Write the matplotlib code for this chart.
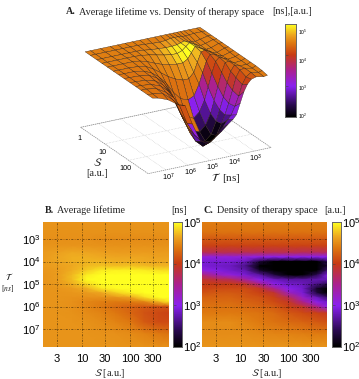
import numpy as np
import matplotlib
matplotlib.use('Agg')
import matplotlib.pyplot as plt
from matplotlib.colors import LinearSegmentedColormap, Normalize

plt.rcParams['mathtext.fontset'] = 'stix'
plt.rcParams['font.family'] = ['Liberation Serif', 'DejaVu Serif']

# log10 grid of the surface in panel A
surf_t = [7.6, 7.36, 6.91, 6.47, 6.13, 5.8, 5.46, 5.13, 4.8, 4.46, 4.19, 3.96, 3.8, 3.63, 3.46, 3.3, 3.13, 2.91, 2.57, 2.4]
surf_s = [0, 0.22, 0.48, 0.7, 0.93, 1.18, 1.4, 1.63, 1.88, 2.11, 2.33, 2.59, 2.81]

surf_z = [
    [4.78, 4.78, 4.78, 4.78, 4.78, 4.78, 4.78, 4.78, 4.78, 4.78, 4.78, 4.78, 4.78, 4.78, 4.78, 4.78, 4.78, 4.78, 4.78, 4.78],
    [4.78, 4.78, 4.78, 4.78, 4.78, 4.78, 4.78, 4.76, 4.74, 4.72, 4.74, 4.78, 4.78, 4.78, 4.76, 4.75, 4.76, 4.78, 4.78, 4.78],
    [4.78, 4.78, 4.78, 4.78, 4.78, 4.78, 4.76, 4.72, 4.7, 4.68, 4.68, 4.7, 4.74, 4.78, 4.74, 4.7, 4.68, 4.72, 4.78, 4.78],
    [4.78, 4.78, 4.78, 4.78, 4.78, 4.76, 4.72, 4.66, 4.6, 4.55, 4.55, 4.62, 4.74, 4.85, 4.78, 4.71, 4.66, 4.7, 4.78, 4.78],
    [4.78, 4.78, 4.78, 4.78, 4.75, 4.67, 4.55, 4.45, 4.38, 4.34, 4.34, 4.45, 4.65, 4.85, 4.78, 4.71, 4.66, 4.68, 4.78, 4.78],
    [4.78, 4.78, 4.78, 4.76, 4.7, 4.55, 4.35, 4.15, 4.0, 3.9, 3.9, 4.1, 4.45, 4.8, 4.84, 4.77, 4.7, 4.66, 4.76, 4.78],
    [4.78, 4.78, 4.78, 4.72, 4.6, 4.4, 4.1, 3.7, 3.4, 3.3, 3.4, 3.8, 4.2, 4.6, 4.82, 4.8, 4.73, 4.66, 4.74, 4.78],
    [4.78, 4.78, 4.76, 4.7, 4.55, 4.3, 3.85, 3.3, 2.9, 2.75, 2.95, 3.35, 3.8, 4.3, 4.7, 4.82, 4.76, 4.68, 4.72, 4.78],
    [4.78, 4.78, 4.75, 4.65, 4.45, 4.1, 3.5, 2.9, 2.5, 2.4, 2.6, 3.0, 3.45, 3.95, 4.45, 4.78, 4.8, 4.7, 4.72, 4.78],
    [4.78, 4.78, 4.74, 4.6, 4.35, 3.85, 3.2, 2.6, 2.25, 2.2, 2.4, 2.85, 3.25, 3.7, 4.2, 4.6, 4.8, 4.74, 4.72, 4.78],
    [4.78, 4.78, 4.72, 4.5, 4.25, 3.6, 3.0, 2.45, 2.2, 2.3, 2.5, 2.9, 3.2, 3.6, 4.05, 4.5, 4.75, 4.78, 4.72, 4.78],
    [4.78, 4.76, 4.7, 4.4, 4.1, 3.4, 2.9, 2.6, 2.5, 2.7, 2.95, 3.2, 3.35, 3.65, 4.0, 4.4, 4.65, 4.78, 4.72, 4.76],
    [4.78, 4.74, 4.6, 4.35, 4.25, 3.5, 2.86, 2.64, 2.8, 3.0, 3.2, 3.35, 3.5, 3.9, 4.3, 4.55, 4.7, 4.75, 4.7, 4.72],
]

surf_c = [
    [4.42, 4.42, 4.42, 4.42, 4.42, 4.42, 4.42, 4.42, 4.42, 4.42, 4.42, 4.42, 4.42, 4.42, 4.42, 4.42, 4.42, 4.42, 4.42, 4.42],
    [4.42, 4.42, 4.42, 4.42, 4.42, 4.42, 4.42, 4.45, 4.5, 4.58, 4.62, 4.58, 4.5, 4.45, 4.42, 4.42, 4.42, 4.42, 4.42, 4.42],
    [4.42, 4.42, 4.42, 4.42, 4.42, 4.45, 4.5, 4.58, 4.7, 4.85, 4.92, 4.95, 4.85, 4.7, 4.55, 4.45, 4.42, 4.42, 4.42, 4.42],
    [4.42, 4.42, 4.42, 4.42, 4.42, 4.45, 4.5, 4.58, 4.68, 4.8, 4.95, 5.0, 5.0, 4.85, 4.65, 4.5, 4.45, 4.42, 4.42, 4.42],
    [4.4, 4.4, 4.4, 4.4, 4.4, 4.42, 4.44, 4.46, 4.5, 4.55, 4.6, 4.66, 4.72, 4.7, 4.5, 4.45, 4.42, 4.4, 4.4, 4.4],
    [4.38, 4.38, 4.38, 4.38, 4.38, 4.38, 4.36, 4.34, 4.34, 4.34, 4.36, 4.42, 4.5, 4.15, 4.35, 4.4, 4.4, 4.4, 4.4, 4.4],
    [4.36, 4.36, 4.36, 4.36, 4.34, 4.3, 4.3, 4.3, 4.32, 3.0, 3.1, 3.5, 3.9, 4.1, 4.25, 4.38, 4.4, 4.4, 4.4, 4.4],
    [4.36, 4.36, 4.36, 4.34, 4.3, 4.26, 4.26, 4.3, 4.35, 2.45, 2.65, 3.05, 3.5, 4.0, 4.2, 4.35, 4.4, 4.4, 4.4, 4.4],
    [4.36, 4.36, 4.34, 4.3, 4.25, 4.25, 4.3, 4.4, 2.2, 2.1, 2.3, 2.7, 3.15, 3.65, 4.1, 4.25, 4.4, 4.4, 4.4, 4.4],
    [4.36, 4.36, 4.32, 4.28, 4.22, 4.25, 4.4, 2.3, 2.0, 2.0, 2.1, 2.55, 2.95, 3.4, 3.9, 4.15, 4.3, 4.4, 4.4, 4.4],
    [4.36, 4.36, 4.3, 4.25, 4.2, 4.3, 2.7, 2.15, 2.0, 2.0, 2.2, 2.6, 2.9, 3.3, 3.75, 4.1, 4.25, 4.4, 4.4, 4.4],
    [4.36, 4.34, 4.28, 4.2, 4.15, 3.1, 2.6, 2.3, 2.2, 2.4, 2.65, 2.9, 3.05, 3.35, 3.7, 4.05, 4.2, 4.35, 4.4, 4.4],
    [4.36, 4.32, 4.25, 4.2, 4.3, 3.0, 2.6, 2.4, 2.5, 2.7, 2.9, 3.05, 3.2, 3.55, 3.9, 4.1, 4.2, 4.3, 4.4, 4.4],
]

# heatmaps, panels B and C
heat_s = [0.19, 0.5, 0.8, 1.1, 1.4, 1.7, 2.0, 2.3, 2.6, 2.81]
heat_t = [2.24, 2.7, 3.0, 3.3, 3.6, 3.8, 4.0, 4.2, 4.4, 4.6, 4.8, 5.0, 5.2, 5.4, 5.6, 5.8, 6.0, 6.3, 6.7, 7.2, 7.8]

lifetime = [
    [4.55, 4.55, 4.55, 4.55, 4.55, 4.55, 4.55, 4.55, 4.55, 4.55],
    [4.54, 4.54, 4.54, 4.54, 4.54, 4.54, 4.54, 4.54, 4.54, 4.54],
    [4.52, 4.52, 4.52, 4.52, 4.5, 4.5, 4.5, 4.5, 4.5, 4.5],
    [4.55, 4.55, 4.55, 4.55, 4.54, 4.54, 4.54, 4.54, 4.54, 4.54],
    [4.58, 4.62, 4.66, 4.64, 4.62, 4.6, 4.6, 4.6, 4.6, 4.6],
    [4.58, 4.64, 4.68, 4.68, 4.66, 4.64, 4.64, 4.64, 4.62, 4.62],
    [4.6, 4.64, 4.68, 4.7, 4.7, 4.68, 4.68, 4.66, 4.66, 4.66],
    [4.6, 4.62, 4.66, 4.72, 4.76, 4.74, 4.76, 4.72, 4.7, 4.7],
    [4.56, 4.6, 4.68, 4.8, 4.92, 4.95, 4.95, 4.92, 4.88, 4.86],
    [4.55, 4.6, 4.72, 4.92, 5.0, 5.0, 5.0, 5.0, 5.0, 5.0],
    [4.55, 4.6, 4.74, 4.98, 5.0, 5.0, 5.0, 5.0, 5.0, 5.0],
    [4.55, 4.58, 4.68, 4.85, 5.0, 5.0, 5.0, 5.0, 5.0, 5.0],
    [4.55, 4.56, 4.6, 4.68, 4.9, 4.98, 5.0, 5.0, 5.0, 5.0],
    [4.55, 4.55, 4.56, 4.58, 4.64, 4.8, 4.92, 5.0, 5.0, 5.0],
    [4.55, 4.55, 4.54, 4.52, 4.52, 4.54, 4.62, 4.85, 5.0, 5.0],
    [4.55, 4.55, 4.53, 4.47, 4.42, 4.4, 4.4, 4.45, 4.7, 4.9],
    [4.55, 4.55, 4.52, 4.47, 4.4, 4.32, 4.26, 4.2, 4.15, 4.15],
    [4.55, 4.55, 4.54, 4.5, 4.46, 4.38, 4.28, 4.15, 4.08, 4.05],
    [4.55, 4.55, 4.55, 4.54, 4.5, 4.46, 4.38, 4.2, 4.1, 4.1],
    [4.55, 4.55, 4.55, 4.55, 4.54, 4.52, 4.5, 4.44, 4.38, 4.34],
    [4.55, 4.55, 4.55, 4.55, 4.55, 4.55, 4.54, 4.54, 4.52, 4.52],
]

density = [
    [4.42, 4.42, 4.42, 4.42, 4.42, 4.42, 4.42, 4.42, 4.42, 4.42],
    [4.35, 4.35, 4.35, 4.35, 4.35, 4.35, 4.35, 4.35, 4.35, 4.35],
    [4.2, 4.2, 4.2, 4.2, 4.2, 4.2, 4.2, 4.2, 4.2, 4.2],
    [4.05, 4.05, 4.05, 4.05, 4.05, 4.05, 4.05, 4.05, 4.05, 4.05],
    [3.75, 3.75, 3.75, 3.75, 3.75, 3.75, 3.75, 3.72, 3.7, 3.7],
    [3.1, 3.1, 3.1, 3.1, 3.05, 3.0, 3.0, 3.0, 3.0, 3.0],
    [2.9, 2.9, 2.9, 2.8, 2.3, 1.9, 1.8, 1.8, 1.9, 2.4],
    [2.9, 2.85, 2.8, 2.6, 1.9, 1.7, 1.7, 1.7, 1.7, 2.2],
    [3.1, 2.95, 2.85, 2.75, 2.2, 1.8, 1.7, 1.7, 1.8, 2.5],
    [3.6, 3.3, 3.1, 2.9, 2.7, 2.3, 1.95, 1.95, 2.4, 2.9],
    [3.9, 3.8, 3.7, 3.4, 3.0, 2.8, 2.7, 2.7, 2.75, 2.8],
    [4.0, 4.0, 4.0, 3.9, 3.5, 3.0, 2.85, 2.8, 2.6, 2.4],
    [4.05, 4.1, 4.1, 4.1, 3.95, 3.5, 3.0, 2.85, 2.2, 1.8],
    [4.15, 4.2, 4.2, 4.15, 4.05, 3.9, 3.3, 2.9, 2.3, 1.8],
    [4.25, 4.25, 4.25, 4.2, 4.15, 4.05, 3.75, 3.2, 2.8, 2.5],
    [4.3, 4.3, 4.3, 4.25, 4.2, 4.1, 3.95, 3.5, 3.0, 2.85],
    [4.35, 4.35, 4.35, 4.3, 4.25, 4.2, 4.05, 3.9, 3.5, 3.0],
    [4.4, 4.4, 4.4, 4.38, 4.35, 4.3, 4.2, 4.1, 4.05, 3.95],
    [4.5, 4.5, 4.5, 4.45, 4.4, 4.35, 4.3, 4.25, 4.2, 4.15],
    [4.5, 4.5, 4.5, 4.5, 4.48, 4.46, 4.44, 4.42, 4.4, 4.4],
    [4.55, 4.55, 4.55, 4.55, 4.55, 4.55, 4.55, 4.55, 4.55, 4.55],
]

s_ticks = [3, 10, 30, 100, 300]
t_ticks = [3, 4, 5, 6, 7]
cbar_ticks = [2, 3, 4, 5]

cmap = LinearSegmentedColormap.from_list('therapy', [
    (0.0, '#000000'), (0.13, '#2a0a50'), (0.33, '#8a20f0'), (0.5, '#ab2090'),
    (0.67, '#c83c14'), (0.8, '#df7a10'), (0.88, '#eda320'), (1.0, '#ffff20')])
norm = Normalize(2, 5)

W, H = 359, 379
fig = plt.figure(figsize=(W / 100, H / 100), dpi=100)


def px_axes(x0, y0, x1, y1, **kw):
    return fig.add_axes([x0 / W, 1 - y1 / H, (x1 - x0) / W, (y1 - y0) / H], **kw)


def px_text(x, y, s, **kw):
    kw.setdefault('ha', 'center')
    kw.setdefault('va', 'center')
    return fig.text(x / W, 1 - y / H, s, **kw)


def heatmap(x0, x1, values):
    ax = px_axes(x0, 222, x1, 347)
    ax.pcolormesh(heat_s, heat_t, np.array(values), cmap=cmap, norm=norm, shading='gouraud', rasterized=True)
    ax.set_xlim(heat_s[0], heat_s[-1])
    ax.set_ylim(heat_t[-1], heat_t[0])
    for s in s_ticks:
        ax.axvline(np.log10(s), color='k', lw=0.5, ls=(0, (3, 2, 1, 2)), alpha=0.6)
    for t in t_ticks:
        ax.axhline(t, color='k', lw=0.5, ls=(0, (3, 2, 1, 2)), alpha=0.6)
    ax.set_xticks(np.log10(s_ticks))
    ax.set_xticklabels([str(s) for s in s_ticks], family='Liberation Sans', fontsize=8)
    ax.tick_params(length=0, pad=5)
    for sp in ax.spines.values():
        sp.set_visible(False)
    return ax


def colorbar(x0, y0, x1, y1):
    ax = px_axes(x0, y0, x1, y1)
    grad = np.linspace(5, 2, 200).reshape(-1, 1)
    ax.imshow(grad, cmap=cmap, norm=norm, aspect='auto', extent=(0, 1, 2, 5))
    ax.set_xticks([])
    ax.set_yticks(cbar_ticks)
    ax.set_yticklabels([])
    ax.tick_params(length=2, width=0.4, direction='in', color='#444444')
    for sp in ax.spines.values():
        sp.set_color('#666666')
        sp.set_linewidth(0.7)
    return ax


# panel A
a_w = 209.5
a_cx, a_cy = 173.0, 100.0
ax3 = fig.add_axes([(a_cx - a_w / 2) / W, 1 - (a_cy + a_w / 2) / H, a_w / W, a_w / H], projection='3d', proj_type='ortho')
ax3.set_box_aspect((139.7, 137.8, 86.6))
ax3.view_init(elev=22.5, azim=-119.1)
ax3.set_xlim(heat_t[-1], heat_t[0], view_margin=0)
ax3.set_ylim(2.81, 0, view_margin=0)
ax3.set_zlim(2, 5, view_margin=0)
ax3.set_axis_off()
ax3.patch.set_alpha(0)

floor_s = [0, 1, 2]
floor_t = [7, 6, 5, 4, 3]
for v in floor_s:
    ax3.plot([7.8, 2.24], [v, v], [2, 2], color='#bbbbbb', lw=0.4, ls=':')
for v in floor_t:
    ax3.plot([v, v], [0, 2.81], [2, 2], color='#bbbbbb', lw=0.4, ls=':')
ax3.plot([7.8, 2.24, 2.24, 7.8, 7.8], [0, 0, 2.81, 2.81, 0], [2, 2, 2, 2, 2], color='#888888', lw=0.5, ls=(0, (2, 1)))

X, Y = np.meshgrid(surf_t, surf_s)
Z = np.array(surf_z)
ax3.plot_surface(X, Y, Z, facecolors=cmap(norm(np.array(surf_c))), rstride=1, cstride=1,
                 shade=False, edgecolor='#2a1a10', linewidth=0.25, antialiased=True)

px_text(66, 12, 'A.', ha='left', fontsize=7.2, fontweight='bold', color='#222222')
px_text(79, 12, 'Average lifetime vs. Density of therapy space', ha='left', fontsize=7.3, color='#222222')
px_text(312, 12, '[ns],[a.u.]', ha='right', fontsize=7.3, color='#222222')

for s, x, y in zip(['1', '10', '100'], [79, 102, 125], [138, 153, 169]):
    px_text(x, y, s, family='Liberation Sans', fontsize=5.2)
for t, x, y in zip([7, 6, 5, 4, 3], [168, 190, 212, 234, 255], [177, 172, 167, 162, 158]):
    px_text(x, y, '$\\mathregular{10^{%d}}$' % t, family='Liberation Sans', fontsize=5.2)
px_text(98, 162, r'$\mathcal{S}$', fontsize=8, color='#222222')
px_text(97, 174, '[a.u.]', fontsize=7.5, color='#222222')
px_text(226, 178, r'$\mathcal{T}$  [ns]', fontsize=8, color='#222222')

colorbar(285, 24, 296, 117)
for c, y in zip([5, 4, 3, 2], [32, 61, 88, 116]):
    px_text(303, y, '$\\mathregular{10^{%d}}$' % c, family='Liberation Sans', fontsize=3.5)

# panel B
ax_b = heatmap(43, 169, lifetime)
ax_b.set_yticks(t_ticks)
ax_b.set_yticklabels(['$\\mathregular{10^{%d}}$' % t for t in t_ticks], family='Liberation Sans', fontsize=8)
ax_b.tick_params(axis='y', pad=2)
px_text(45, 210, 'B.', ha='left', fontsize=7.2, fontweight='bold', color='#222222')
px_text(57, 210, 'Average lifetime', ha='left', fontsize=7.3, color='#222222')
px_text(171, 210, '[ns]', ha='left', fontsize=7.3, color='#222222')
px_text(110, 373, r'$\mathcal{S}$ [a.u.]', fontsize=7.3, color='#222222')
px_text(9, 276, r'$\mathcal{T}$', fontsize=6.5, color='#222222')
px_text(8, 288, r'[$ns$]', fontsize=5.5, color='#222222')

colorbar(173, 222, 182, 347)

# panel C
ax_c = heatmap(202, 327, density)
ax_c.set_yticks(t_ticks)
ax_c.set_yticklabels([])
px_text(203, 210, 'C.', ha='left', fontsize=7.2, fontweight='bold', color='#222222')
px_text(217, 210, 'Density of therapy space', ha='left', fontsize=7.3, color='#222222')
px_text(346, 210, '[a.u.]', ha='right', fontsize=7.3, color='#222222')
px_text(267, 373, r'$\mathcal{S}$ [a.u.]', fontsize=7.3, color='#222222')

for c, y in zip([5, 4, 3, 2], [223, 264, 306, 347]):
    px_text(192, y, '$\\mathregular{10^{%d}}$' % c, family='Liberation Sans', fontsize=8)
    px_text(351, y, '$\\mathregular{10^{%d}}$' % c, family='Liberation Sans', fontsize=8)

colorbar(332, 222, 341, 347)

fig.savefig('out.png', dpi=100)
